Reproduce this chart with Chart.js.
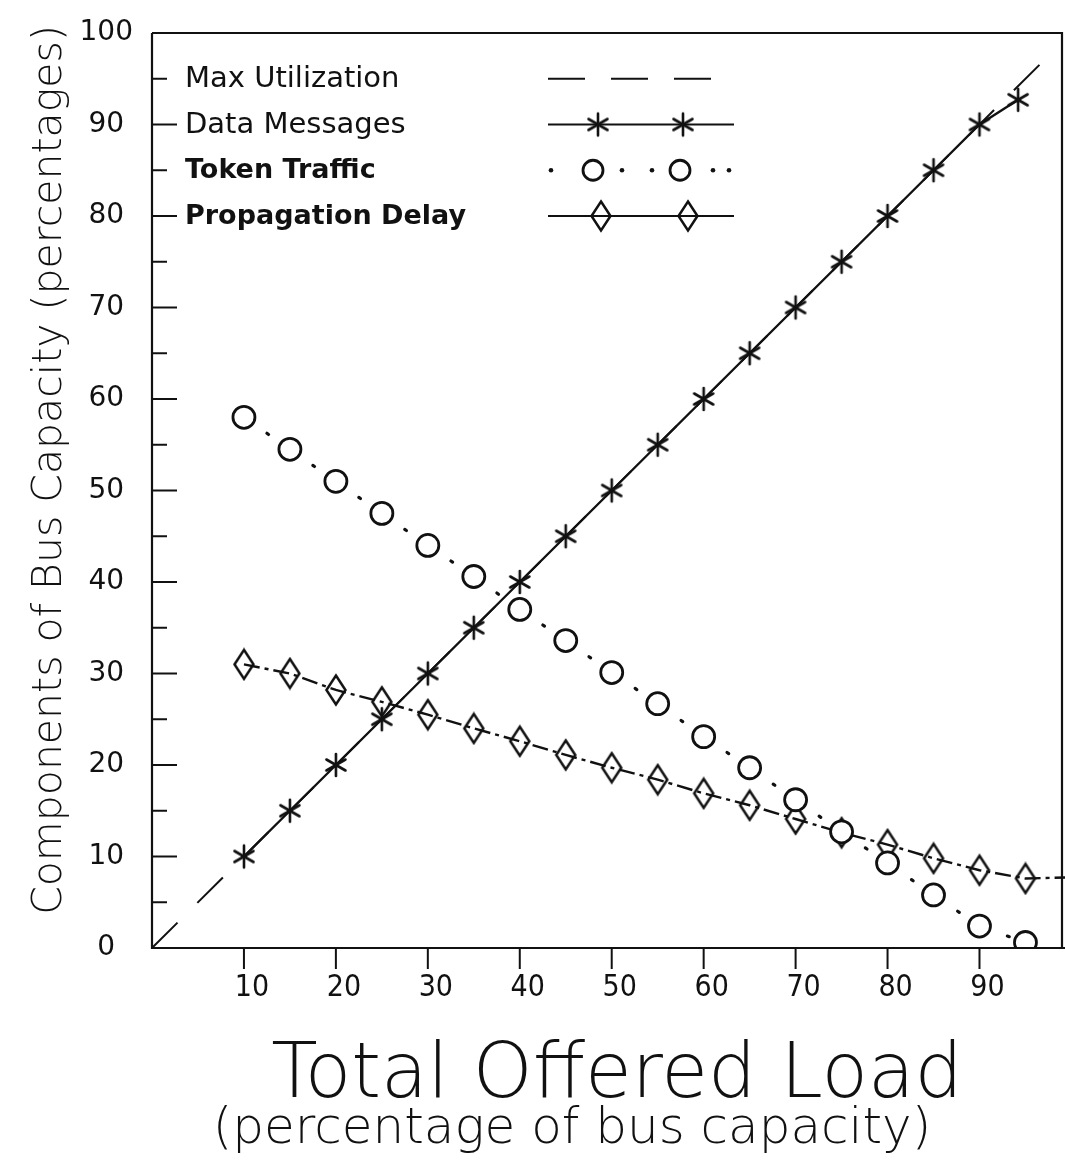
<!DOCTYPE html>
<html>
<head>
<meta charset="utf-8">
<script src="https://cdn.jsdelivr.net/npm/chart.js@4.4.1/dist/chart.umd.min.js"></script>
<style>
html, body { margin: 0; padding: 0; background: #fff; overflow: hidden; }
#wrap { width: 1065px; height: 1167px; }
#chart { display: block; }
</style>
</head>
<body>
<div id="wrap"><canvas id="chart" width="1065" height="1167"></canvas></div>
<script>
// values
const xTicks = [10, 20, 30, 40, 50, 60, 70, 80, 90]

const maxUtilX = [0, 98]
const maxUtil  = [0, 98]

const dataX        = [10, 15, 20, 25, 30, 35, 40, 45, 50, 55, 60, 65, 70, 75, 80, 85, 90, 94.2]
const dataMessages = [10, 15, 20, 25, 30, 35, 40, 45, 50, 55, 60, 65, 70, 75, 80, 85, 90, 92.7]

const tokenX       = [10, 15, 20, 25, 30, 35, 40, 45, 50, 55, 60, 65, 70, 75, 80, 85, 90, 95]
const tokenTraffic = [58, 54.5, 51, 47.5, 44, 40.6, 37, 33.6, 30.1, 26.7, 23.1, 19.7, 16.2, 12.7, 9.3, 5.8, 2.4, 0.6]

const delayX           = [10, 15, 20, 25, 30, 35, 40, 45, 50, 55, 60, 65, 70, 75, 80, 85, 90, 95, 99.3]
const propagationDelay = [31, 30, 28.2, 26.9, 25.5, 24, 22.6, 21.1, 19.7, 18.4, 16.9, 15.6, 14.1, 12.6, 11.3, 9.8, 8.5, 7.6, 7.7]

const INK = '#111'
const THIN = '"DejaVu Sans", "Lato", sans-serif'

function pts(xs, ys) {
    return xs.map((x, i) => ({ x: x, y: ys[i] }))
}

// marker images
function makeStar(r, lw) {
    const c = document.createElement('canvas')
    c.width = c.height = Math.ceil(2 * r + lw * 2)
    const g = c.getContext('2d')
    g.strokeStyle = INK
    g.lineWidth = lw
    g.lineCap = 'round'
    g.translate(c.width / 2, c.height / 2)
    ;[90, 30, 150].forEach(a => {
        const t = a * Math.PI / 180
        g.beginPath()
        g.moveTo(-r * Math.cos(t), -r * Math.sin(t))
        g.lineTo(r * Math.cos(t), r * Math.sin(t))
        g.stroke()
    })
    return c
}

function makeDiamond(w, h, lw) {
    const c = document.createElement('canvas')
    c.width = Math.ceil(w + lw * 2)
    c.height = Math.ceil(h + lw * 2)
    const g = c.getContext('2d')
    g.strokeStyle = INK
    g.lineWidth = lw
    g.lineJoin = 'miter'
    const cx = c.width / 2, cy = c.height / 2
    g.beginPath()
    g.moveTo(cx, cy - h / 2)
    g.lineTo(cx + w / 2, cy)
    g.lineTo(cx, cy + h / 2)
    g.lineTo(cx - w / 2, cy)
    g.closePath()
    g.stroke()
    return c
}

const starImg = makeStar(11, 2.6)
const diamondImg = makeDiamond(19, 29, 2.5)

const framePlugin = {
    id: 'frame',
    afterDraw(chart) {
        const ctx = chart.ctx
        const xs = chart.scales.x
        const ys = chart.scales.y
        const a = chart.chartArea
        ctx.save()
        ctx.strokeStyle = INK
        ctx.fillStyle = INK
        ctx.lineWidth = 2.2

        // box
        ctx.beginPath()
        ctx.moveTo(a.left, a.top)
        ctx.lineTo(a.left, a.bottom)
        ctx.lineTo(a.right, a.bottom)
        ctx.moveTo(a.left, a.top)
        ctx.lineTo(a.right - 3, a.top)
        ctx.lineTo(a.right - 3, a.bottom)
        ctx.stroke()

        // y ticks, pointing in
        ctx.lineWidth = 2
        for (let v = 5; v < 100; v += 5) {
            const y = ys.getPixelForValue(v)
            const len = v % 10 === 0 ? 25 : 15
            ctx.beginPath()
            ctx.moveTo(a.left, y)
            ctx.lineTo(a.left + len, y)
            ctx.stroke()
        }
        // x ticks, pointing down
        xTicks.forEach(v => {
            const x = xs.getPixelForValue(v)
            ctx.beginPath()
            ctx.moveTo(x, a.bottom)
            ctx.lineTo(x, a.bottom + 21)
            ctx.stroke()
        })

        // legend
        const rows = [
            { label: 'Max Utilization', v: 95, font: '29px "DejaVu Sans", sans-serif' },
            { label: 'Data Messages', v: 90, font: '29px "DejaVu Sans", sans-serif' },
            { label: 'Token Traffic', v: 85, font: 'bold 27px "DejaVu Sans", sans-serif' },
            { label: 'Propagation Delay', v: 80, font: 'bold 27px "DejaVu Sans", sans-serif' },
        ]
        ctx.textBaseline = 'middle'
        ctx.textAlign = 'left'
        rows.forEach(r => {
            ctx.font = r.font
            ctx.fillText(r.label, 185, ys.getPixelForValue(r.v) + 1)
        })
        const x0 = 548, x1 = 734
        // max utilization sample
        let y = ys.getPixelForValue(95)
        ctx.lineWidth = 2
        ctx.setLineDash([37, 26])
        ctx.beginPath(); ctx.moveTo(x0, y); ctx.lineTo(722, y); ctx.stroke()
        // data messages sample
        y = ys.getPixelForValue(90)
        ctx.setLineDash([])
        ctx.lineWidth = 2.2
        ctx.beginPath(); ctx.moveTo(x0, y); ctx.lineTo(x1, y); ctx.stroke()
        ;[598, 683].forEach(px => ctx.drawImage(starImg, px - starImg.width / 2, y - starImg.height / 2))
        // token traffic sample
        y = ys.getPixelForValue(85)
        ;[551, 622, 652, 713, 729].forEach(px => {
            ctx.beginPath(); ctx.arc(px, y, 2.3, 0, Math.PI * 2); ctx.fill()
        })
        ctx.lineWidth = 2.8
        ;[593, 680].forEach(px => {
            ctx.beginPath(); ctx.arc(px, y, 10, 0, Math.PI * 2); ctx.stroke()
        })
        // propagation delay sample
        y = ys.getPixelForValue(80)
        ctx.lineWidth = 2.2
        ctx.beginPath(); ctx.moveTo(x0, y); ctx.lineTo(x1, y); ctx.stroke()
        ;[601, 688].forEach(px => ctx.drawImage(diamondImg, px - diamondImg.width / 2, y - diamondImg.height / 2))

        // axis titles
        ctx.textAlign = 'center'
        ctx.textBaseline = 'alphabetic'
        ctx.font = '200 76px ' + THIN
        ctx.fillText('Total Offered Load', 617, 1097)
        ctx.font = '200 50px ' + THIN
        ctx.fillText('(percentage of bus capacity)', 572, 1143)

        ctx.save()
        ctx.translate(61, 470)
        ctx.rotate(-Math.PI / 2)
        ctx.font = '200 41px ' + THIN
        ctx.fillText('Components of Bus Capacity (percentages)', 0, 0)
        ctx.restore()

        ctx.restore()
    }
}

new Chart(document.getElementById('chart'), {
    type: 'line',
    data: {
        datasets: [
            {
                label: 'Max Utilization',
                data: pts(maxUtilX, maxUtil),
                borderColor: INK,
                borderWidth: 2,
                borderDash: [36, 28],
                pointRadius: 0,
                tension: 0
            },
            {
                label: 'Data Messages',
                data: pts(dataX, dataMessages),
                borderColor: INK,
                borderWidth: 2.4,
                pointStyle: starImg,
                pointRadius: 11,
                tension: 0
            },
            {
                label: 'Token Traffic',
                data: pts(tokenX, tokenTraffic),
                borderColor: INK,
                borderWidth: 3.2,
                borderDash: [2, 26],
                borderCapStyle: 'round',
                pointStyle: 'circle',
                pointRadius: 11,
                pointBorderWidth: 2.8,
                pointBackgroundColor: '#fff',
                pointBorderColor: INK,
                tension: 0
            },
            {
                label: 'Propagation Delay',
                data: pts(delayX, propagationDelay),
                borderColor: INK,
                borderWidth: 2.4,
                borderDash: [16, 5, 4, 5],
                pointStyle: delayX.map((x, i) => i === delayX.length - 1 ? false : diamondImg),
                pointRadius: delayX.map((x, i) => i === delayX.length - 1 ? 0 : 12),
                tension: 0
            }
        ]
    },
    options: {
        responsive: false,
        animation: false,
        devicePixelRatio: 1,
        layout: { autoPadding: false, padding: { top: 33, left: 0, right: 0, bottom: 0 } },
        plugins: {
            legend: { display: false },
            tooltip: { enabled: false }
        },
        scales: {
            x: {
                type: 'linear',
                min: 0,
                max: 99.3,
                grid: { display: false, drawTicks: false },
                border: { display: false },
                afterBuildTicks: s => { s.ticks = xTicks.map(v => ({ value: v })) },
                afterFit: s => { s.height = 219; s.paddingLeft = 0; s.paddingRight = 0 },
                ticks: {
                    color: INK,
                    padding: 22,
                    labelOffset: 8,
                    maxRotation: 0,
                    font: { family: '"Liberation Sans Narrow", "DejaVu Sans Condensed", sans-serif', size: 30 }
                }
            },
            y: {
                type: 'linear',
                min: 0,
                max: 100,
                grid: { display: false, drawTicks: false },
                border: { display: false },
                afterFit: s => { s.width = 152; s.paddingTop = 0; s.paddingBottom = 0 },
                ticks: {
                    stepSize: 10,
                    color: INK,
                    padding: 19,
                    crossAlign: 'center',
                    font: { family: '"DejaVu Sans", sans-serif', size: 28 }
                }
            }
        }
    },
    plugins: [framePlugin]
})
</script>
</body>
</html>
